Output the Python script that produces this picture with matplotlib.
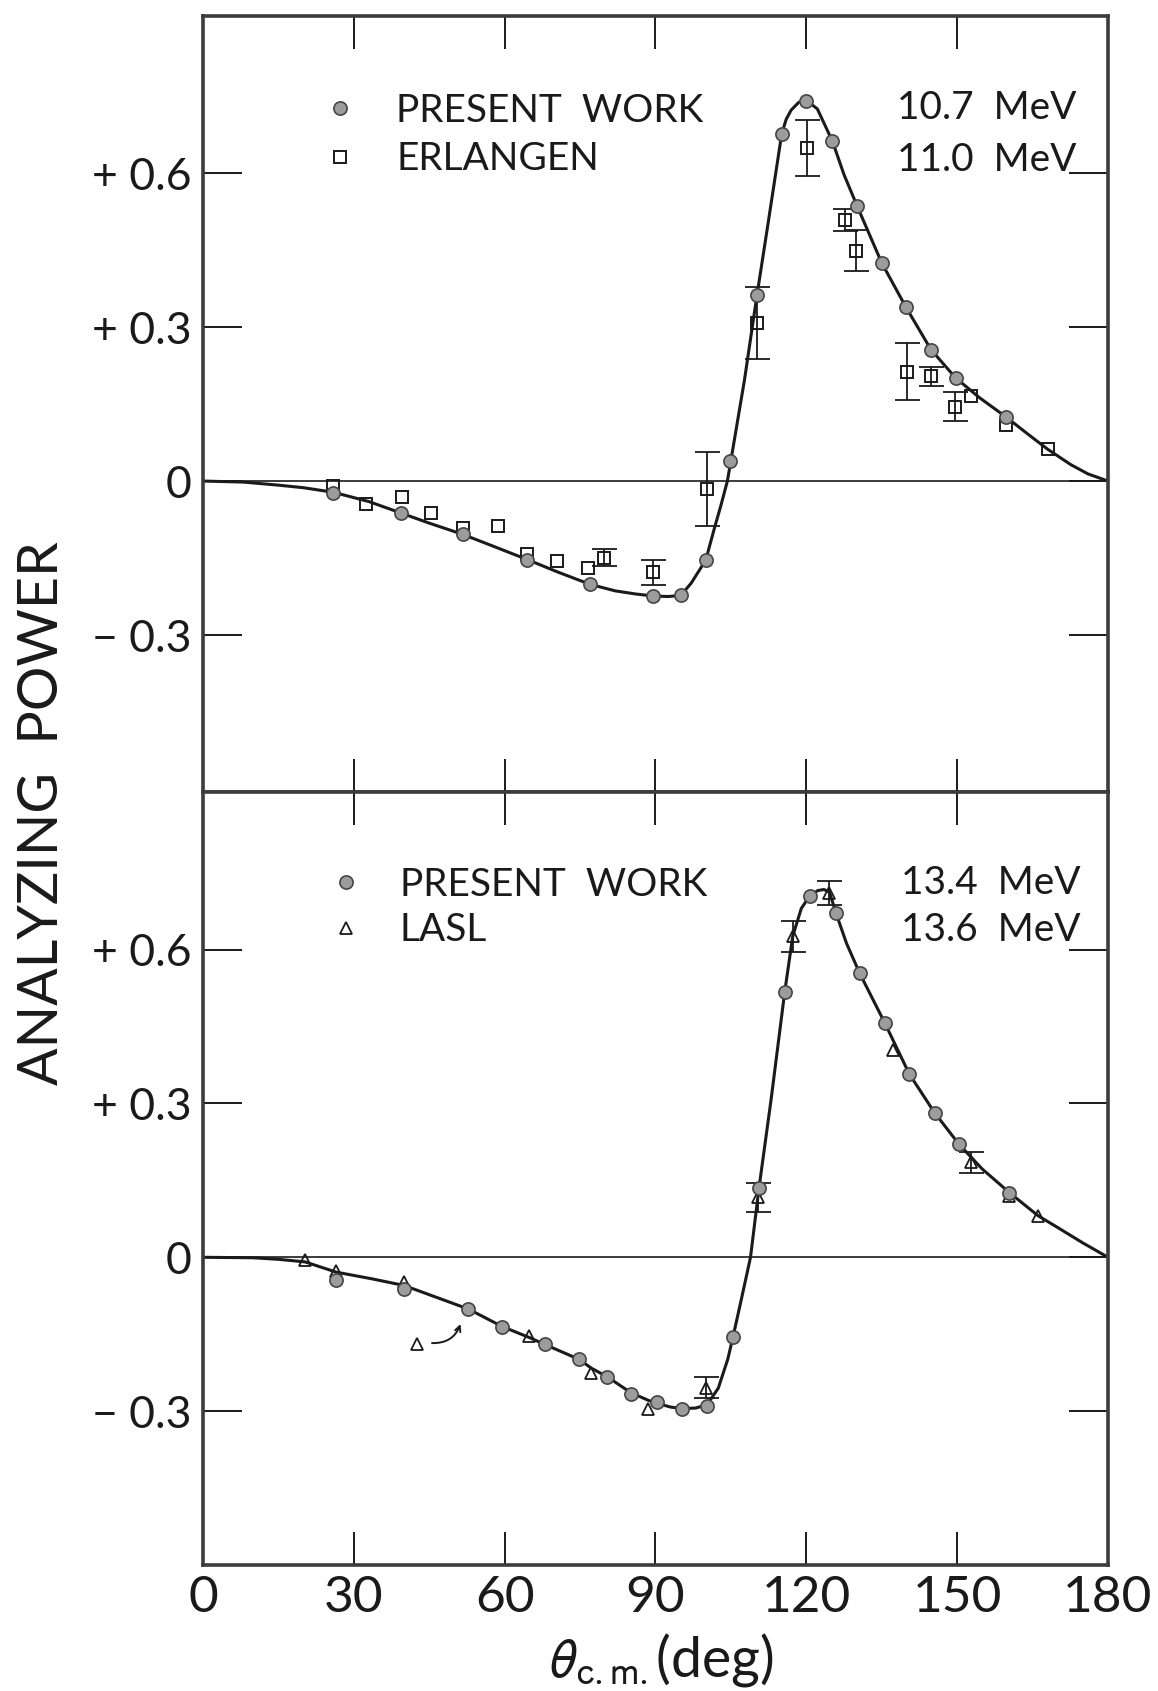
import matplotlib
matplotlib.use("Agg")
import matplotlib.pyplot as plt
from matplotlib.lines import Line2D
import numpy as np

# ---------------- data ----------------
# Upper panel: 10.7 MeV (present work) and 11.0 MeV (Erlangen)
top_pw_theta = [25.8, 39.3, 51.7, 64.5, 76.9, 89.6, 95.0, 100.0, 104.9, 110.2, 115.1,
                119.9, 125.2, 130.1, 135.0, 139.8, 144.8, 149.7, 159.7]
top_pw_A = [-0.023, -0.062, -0.104, -0.153, -0.201, -0.224, -0.223, -0.154, 0.040, 0.363,
            0.676, 0.740, 0.662, 0.536, 0.425, 0.339, 0.256, 0.201, 0.125]

erl_theta = [25.8, 32.5, 39.5, 45.3, 51.8, 58.6, 64.5, 70.5, 76.5, 79.7, 89.6, 100.2,
             110.2, 120.1, 127.7, 129.9, 140.0, 144.8, 149.5, 152.7, 159.7, 168.0]
erl_A = [-0.010, -0.045, -0.032, -0.062, -0.091, -0.088, -0.143, -0.156, -0.169, -0.149,
         -0.178, -0.016, 0.308, 0.649, 0.509, 0.449, 0.213, 0.204, 0.145, 0.165, 0.110, 0.062]
erl_err = [0, 0, 0, 0, 0, 0, 0, 0, 0, 0.017, 0.024, 0.072, 0.071, 0.054, 0.022, 0.040,
           0.056, 0.019, 0.028, 0, 0, 0]

top_curve_theta = [0, 8, 15, 20, 26, 33, 39.3, 45, 51.7, 58, 64.5, 70.5, 76.9, 82, 86, 89.6,
                   92.5, 95.0, 97.1, 100.0, 101.8, 103, 104.3, 105.0, 107.7, 110.2, 112.3,
                   115.1, 116.0, 117.0, 118.5, 120.0, 122.2, 125.2, 127.5, 130.1, 135.0,
                   139.8, 144.8, 149.7, 154.5, 159.7, 164, 168, 172.6, 176, 180]
top_curve_A = [0, -0.002, -0.008, -0.013, -0.022, -0.040, -0.062, -0.082, -0.104, -0.128,
               -0.153, -0.177, -0.201, -0.214, -0.220, -0.224, -0.225, -0.223, -0.199,
               -0.154, -0.089, -0.048, 0.0, 0.040, 0.197, 0.363, 0.496, 0.676, 0.705,
               0.723, 0.738, 0.742, 0.725, 0.662, 0.597, 0.536, 0.425, 0.339, 0.256,
               0.201, 0.162, 0.125, 0.092, 0.062, 0.032, 0.014, 0]

# Lower panel: 13.4 MeV (present work) and 13.6 MeV (LASL)
bot_pw_theta = [26.5, 40.0, 52.8, 59.5, 68.0, 74.8, 80.4, 85.1, 90.4, 95.3, 100.3, 105.4,
                110.6, 115.7, 120.7, 125.9, 130.6, 135.6, 140.5, 145.5, 150.4, 160.4]
bot_pw_A = [-0.045, -0.061, -0.101, -0.135, -0.170, -0.199, -0.233, -0.266, -0.282, -0.295,
            -0.289, -0.156, 0.136, 0.517, 0.705, 0.671, 0.554, 0.457, 0.357, 0.282, 0.220,
            0.126]

lasl_theta = [20.3, 26.5, 40.0, 64.8, 77.2, 88.6, 100.0, 110.4, 117.3, 124.6, 137.2, 152.8,
              160.4, 166.1]
lasl_A = [-0.006, -0.026, -0.048, -0.154, -0.225, -0.295, -0.254, 0.117, 0.626, 0.710,
          0.405, 0.185, 0.120, 0.081]
lasl_err = [0, 0, 0, 0, 0, 0, 0.020, 0.028, 0.030, 0.023, 0, 0.020, 0, 0]

# LASL point drawn displaced, with an arrow to its true position
lasl_moved_theta = [42.6]
lasl_moved_A = [-0.169]
lasl_arrow_to = (51.4, -0.125)

bot_curve_theta = [0, 10, 15, 20.3, 26.5, 33.6, 40, 47.8, 52.8, 59.5, 64.8, 68, 74.8, 77.2,
                   80.4, 85.1, 88.6, 90.4, 93, 95.3, 98, 100.3, 102.5, 104.4, 105.4, 107.1,
                   108.9, 110.6, 113, 115.7, 117.3, 119, 120.7, 122.3, 123.5, 124.6, 125.9,
                   128, 130.6, 135.6, 140.5, 145.5, 150.4, 155, 160.4, 166.1, 170, 175, 180]
bot_curve_A = [0, -0.001, -0.004, -0.009, -0.029, -0.042, -0.055, -0.083, -0.101, -0.135,
               -0.156, -0.170, -0.199, -0.216, -0.233, -0.264, -0.279, -0.285, -0.292,
               -0.295, -0.294, -0.287, -0.255, -0.198, -0.156, -0.081, 0.0, 0.136, 0.308,
               0.517, 0.626, 0.680, 0.705, 0.715, 0.717, 0.712, 0.671, 0.612, 0.554,
               0.457, 0.357, 0.282, 0.220, 0.172, 0.126, 0.081, 0.058, 0.028, 0]

x_ticks = [0, 30, 60, 90, 120, 150, 180]
x_tick_labels = ["0", "30", "60", "90", "120", "150", "180"]
y_ticks = [-0.3, 0, 0.3, 0.6]
y_tick_labels = ["\u2212 0.3", "0", "+ 0.3", "+ 0.6"]

top_labels = ["PRESENT  WORK", "ERLANGEN"]
bot_labels = ["PRESENT  WORK", "LASL"]
top_energy = ["10.7  MeV", "11.0  MeV"]
bot_energy = ["13.4  MeV", "13.6  MeV"]

# ---------------- style ----------------
FONT = dict(family=["Lato", "DejaVu Sans"], weight="normal")
INK = "#1a1a1a"
SPINE = "#3c3c3c"
circ_style = dict(ls="none", marker="o", ms=9.5, mfc="#9c9c9c", mec="#454545", mew=1.2)
sq_style = dict(ls="none", marker="s", ms=9, mfc="none", mec=INK, mew=1.4)
tri_style = dict(ls="none", marker="^", ms=8.5, mfc="none", mec=INK, mew=1.3)
err_style = dict(fmt="none", ecolor=INK, elinewidth=1.3, capsize=9, capthick=1.3)

plt.rcParams["mathtext.fontset"] = "stixsans"

fig = plt.figure(figsize=(11.58, 16.91), dpi=100)
ax1 = fig.add_axes([0.1753, 0.5316, 0.7815, 0.4589])
ax2 = fig.add_axes([0.1753, 0.0745, 0.7815, 0.4571])


def setup(ax, ylim, show_x):
    ax.set_xlim(0, 180)
    ax.set_ylim(*ylim)
    ax.axhline(0, color=INK, lw=1.2, zorder=1)
    for s in ax.spines.values():
        s.set_color(SPINE)
        s.set_linewidth(2.6)
    ax.set_xticks(x_ticks, x_tick_labels if show_x else [""] * len(x_ticks),
                  fontsize=37, fontfamily=FONT["family"])
    ax.tick_params(axis="x", direction="in", top=True, bottom=True, length=24,
                   width=1.4, color=INK, pad=7, labelcolor=INK)
    ax.set_yticks(y_ticks, y_tick_labels, fontsize=32, fontfamily=FONT["family"])
    ax.tick_params(axis="y", direction="in", left=True, right=True, length=28,
                   width=1.4, color=INK, pad=8, labelcolor=INK)


setup(ax1, (-0.606, 0.906), False)
setup(ax2, (-0.600, 0.907), True)

# upper panel
ax1.plot(top_curve_theta, top_curve_A, color=INK, lw=2.2, zorder=2)
et = np.array(erl_theta); ea = np.array(erl_A); ee = np.array(erl_err)
m = ee > 0
ax1.errorbar(et[m], ea[m], yerr=ee[m], zorder=3, **err_style)
ax1.plot(et, ea, zorder=3, **sq_style)
ax1.plot(top_pw_theta, top_pw_A, zorder=4, **circ_style)

h1 = Line2D([], [], **circ_style)
h2 = Line2D([], [], **sq_style)
ax1.legend([h1, h2], top_labels, loc="upper left", bbox_to_anchor=(0.139, 0.901),
           frameon=False, handlelength=0.6, handletextpad=1.14, borderpad=0,
           borderaxespad=0, labelspacing=0.32, prop=dict(size=28, **FONT),
           labelcolor=INK)
for lab, yv in zip(top_energy, [0.727, 0.626]):
    ax1.text(138.1, yv, lab, ha="left", va="center", fontsize=28, color=INK, **FONT)

# lower panel
ax2.plot(bot_curve_theta, bot_curve_A, color=INK, lw=2.2, zorder=2)
lt = np.array(lasl_theta); la = np.array(lasl_A); le = np.array(lasl_err)
m = le > 0
ax2.errorbar(lt[m], la[m], yerr=le[m], zorder=3, **err_style)
ax2.plot(lt, la, zorder=3, **tri_style)
ax2.plot(bot_pw_theta, bot_pw_A, zorder=4, **circ_style)
ax2.plot(lasl_moved_theta, lasl_moved_A, zorder=3, **tri_style)
ax2.annotate("", xy=lasl_arrow_to, xytext=(lasl_moved_theta[0] + 2.4, lasl_moved_A[0] + 0.002),
             arrowprops=dict(arrowstyle="->", color=INK, lw=1.4,
                             connectionstyle="arc3,rad=0.4"))

h3 = Line2D([], [], **circ_style)
h4 = Line2D([], [], **tri_style)
ax2.legend([h3, h4], bot_labels, loc="upper left", bbox_to_anchor=(0.145, 0.903),
           frameon=False, handlelength=0.6, handletextpad=1.08, borderpad=0,
           borderaxespad=0, labelspacing=0.24, prop=dict(size=28, **FONT),
           labelcolor=INK)
for lab, yv in zip(bot_energy, [0.730, 0.638]):
    ax2.text(138.8, yv, lab, ha="left", va="center", fontsize=28, color=INK, **FONT)

# axis titles
fig.text(0.037, 0.519, "ANALYZING  POWER", rotation=90, ha="center", va="center",
         fontsize=40, color=INK, **FONT)
fig.text(0.570, 0.0183, r"$\theta_{\mathrm{c.m.}}$(deg)", ha="center", va="center",
         fontsize=40, color=INK, **FONT)

fig.savefig("out.png", dpi=100, facecolor="white")
